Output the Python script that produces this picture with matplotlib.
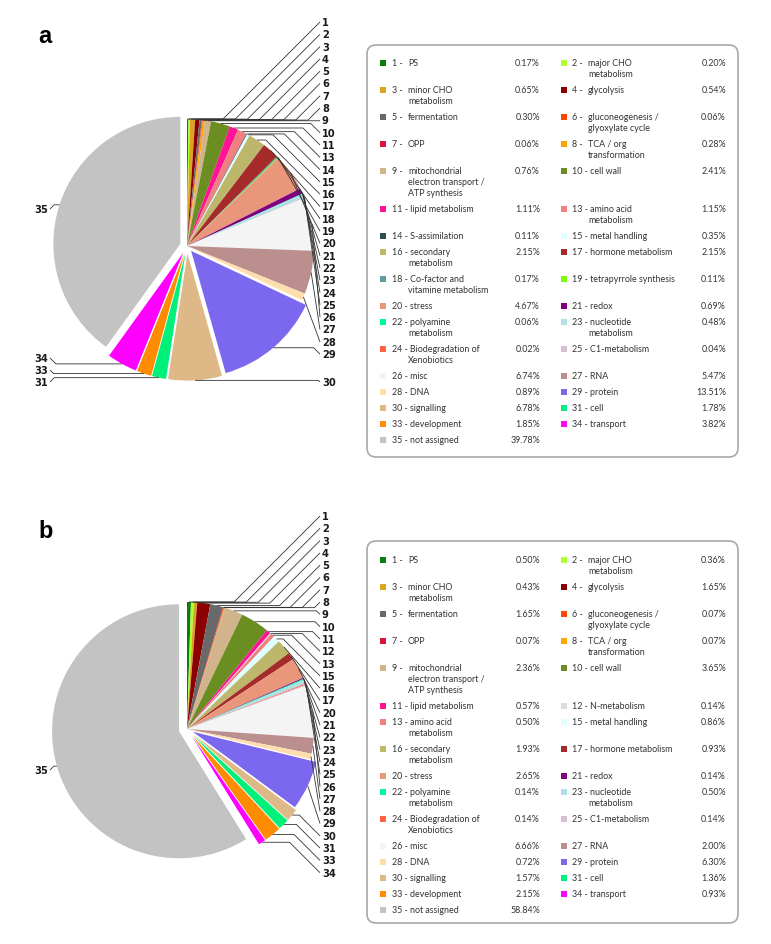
import math
import matplotlib
matplotlib.use('Agg')
import matplotlib.pyplot as plt
from matplotlib.patches import FancyBboxPatch, Rectangle

plt.rcParams['font.family'] = ['Liberation Sans', 'DejaVu Sans']

W, H = 771, 945
R = 127  # pie radius in pixels

# MapMan bins
bin_names = {
    1: 'PS', 2: 'major CHO\nmetabolism', 3: 'minor CHO\nmetabolism', 4: 'glycolysis',
    5: 'fermentation', 6: 'gluconeogenesis /\nglyoxylate cycle', 7: 'OPP',
    8: 'TCA / org\ntransformation', 9: 'mitochondrial\nelectron transport /\nATP synthesis',
    10: 'cell wall', 11: 'lipid metabolism', 12: 'N-metabolism', 13: 'amino acid\nmetabolism',
    14: 'S-assimilation', 15: 'metal handling', 16: 'secondary\nmetabolism',
    17: 'hormone metabolism', 18: 'Co-factor and\nvitamine metabolism',
    19: 'tetrapyrrole synthesis', 20: 'stress', 21: 'redox', 22: 'polyamine\nmetabolism',
    23: 'nucleotide\nmetabolism', 24: 'Biodegradation of\nXenobiotics', 25: 'C1-metabolism',
    26: 'misc', 27: 'RNA', 28: 'DNA', 29: 'protein', 30: 'signalling', 31: 'cell',
    33: 'development', 34: 'transport', 35: 'not assigned',
}
bin_colors = {
    1: '#0a7d0a', 2: '#adff2f', 3: '#daa520', 4: '#8b0000', 5: '#696969', 6: '#ff4500',
    7: '#dc143c', 8: '#ffa500', 9: '#d2b48c', 10: '#6b8e23', 11: '#ff1493', 12: '#dcdcdc',
    13: '#f08080', 14: '#2f4f4f', 15: '#e0ffff', 16: '#bdb76b', 17: '#a52a2a', 18: '#5f9ea0',
    19: '#7cfc00', 20: '#e9967a', 21: '#800080', 22: '#00fa9a', 23: '#b0e0e6', 24: '#ff6347',
    25: '#d8bfd8', 26: '#f4f4f4', 27: '#bc8f8f', 28: '#ffdead', 29: '#7b68ee', 30: '#deb887',
    31: '#00f07a', 33: '#ff8c00', 34: '#ff00ff', 35: '#c3c3c3',
}

a_bins = [1, 2, 3, 4, 5, 6, 7, 8, 9, 10, 11, 13, 14, 15, 16, 17, 18, 19, 20, 21,
          22, 23, 24, 25, 26, 27, 28, 29, 30, 31, 33, 34, 35]
a_pct = [0.17, 0.20, 0.65, 0.54, 0.30, 0.06, 0.06, 0.28, 0.76, 2.41, 1.11, 1.15, 0.11,
         0.35, 2.15, 2.15, 0.17, 0.11, 4.67, 0.69, 0.06, 0.48, 0.02, 0.04, 6.74, 5.47,
         0.89, 13.51, 6.78, 1.78, 1.85, 3.82, 39.78]

b_bins = [1, 2, 3, 4, 5, 6, 7, 8, 9, 10, 11, 12, 13, 15, 16, 17, 20, 21, 22, 23,
          24, 25, 26, 27, 28, 29, 30, 31, 33, 34, 35]
b_pct = [0.50, 0.36, 0.43, 1.65, 1.65, 0.07, 0.07, 0.07, 2.36, 3.65, 0.57, 0.14, 0.50,
         0.86, 1.93, 0.93, 2.65, 0.14, 0.14, 0.50, 0.14, 0.14, 6.66, 2.00, 0.72, 6.30,
         1.57, 1.36, 2.15, 0.93, 58.84]

fig = plt.figure(figsize=(W / 100, H / 100), dpi=100)
ax = fig.add_axes([0, 0, 1, 1])

LBL_FONT = dict(family='DejaVu Sans', fontstretch='condensed', fontweight='bold',
                fontsize=7.9, color='#1a1a1a')
LEG_FONT = dict(family=['Lato', 'DejaVu Sans'], fontsize=6.4, color='#333333')


def Y(py):
    return H - py


def leader(anchor, label, side):
    x0, y0 = anchor
    lx, ly = label
    dy = abs(y0 - ly)
    if side == 'right':
        ex = lx - dy
        pts = [(x0, y0), (ex, y0), (lx, ly)] if ex > x0 else [(x0, y0), (lx, ly)]
    else:
        ex = lx + dy
        pts = [(x0, y0), (ex, y0), (lx, ly)] if ex < x0 else [(x0, y0), (lx, ly)]
    ax.plot([p[0] for p in pts], [p[1] for p in pts], color='#333333', lw=0.6,
            solid_capstyle='butt', zorder=3)


def draw_panel(letter, bins, pct, cy, explode, right_top, fixed_right, left_pos,
               letter_y, box, row0):
    ax.text(38, Y(letter_y), letter, fontsize=17, fontweight='bold', ha='left',
            va='baseline', color='black')

    # explode in pie() is absolute, so scale by the radius
    wedges, _ = ax.pie(pct, colors=[bin_colors[b] for b in bins], startangle=90,
                       counterclock=False, center=(187, Y(cy)), radius=R,
                       explode=[explode.get(b, 0) * R for b in bins],
                       wedgeprops=dict(linewidth=0))

    # leader labels
    right_seq = [b for b in bins if b not in left_pos and b not in fixed_right]
    label_y = {b: right_top + i * 12.3 for i, b in enumerate(right_seq)}
    label_y.update(fixed_right)
    for b, w in zip(bins, wedges):
        mid = math.radians((w.theta1 + w.theta2) / 2)
        cx, cyy = w.center
        anchor = (cx + w.r * math.cos(mid), cyy + w.r * math.sin(mid))
        if b in left_pos:
            pos = (50, Y(left_pos[b]))
            leader(anchor, pos, 'left')
            ax.text(48, pos[1], str(b), ha='right', va='center', **LBL_FONT)
        else:
            pos = (320, Y(label_y[b]))
            leader(anchor, pos, 'right')
            ax.text(322, pos[1], str(b), ha='left', va='center', **LBL_FONT)

    # legend box
    x0, y0, x1, y1 = box
    ax.add_patch(FancyBboxPatch((x0, Y(y1)), x1 - x0, y1 - y0,
                                boxstyle='round,pad=0,rounding_size=9',
                                fc='white', ec='#a8a8a8', lw=1.2, zorder=1))
    cols = [(383, 392, 408, 540), (564, 572, 588, 726)]
    y = row0
    for r in range(0, len(bins), 2):
        row = list(zip(bins[r:r + 2], pct[r:r + 2]))
        nlines = 1
        for c, (b, v) in enumerate(row):
            sq, nx, tx, px = cols[c]
            lines = bin_names[b].split('\n')
            nlines = max(nlines, len(lines))
            ax.add_patch(Rectangle((sq - 3.3, Y(y) - 3.3), 6.6, 6.6,
                                   fc=bin_colors[b], ec='none', zorder=2))
            if b < 10:
                ax.text(nx, Y(y), f'{b} -', ha='left', va='center', **LEG_FONT)
                ax.text(tx, Y(y), lines[0], ha='left', va='center', **LEG_FONT)
            else:
                ax.text(nx, Y(y), f'{b} - {lines[0]}', ha='left', va='center', **LEG_FONT)
            for k, ln in enumerate(lines[1:], start=1):
                ax.text(tx, Y(y + 11 * k), ln, ha='left', va='center', **LEG_FONT)
            ax.text(px, Y(y), f'{v:.2f}%', ha='right', va='center', **LEG_FONT)
        y += 16 + 11 * (nlines - 1)


draw_panel('a', a_bins, a_pct, 247,
           {29: 0.05, 30: 0.06, 31: 0.06, 33: 0.06, 34: 0.06, 35: 0.055},
           23, {30: 383}, {35: 210, 34: 359, 33: 371, 31: 383},
           43, (367, 46, 738, 458), 64)

draw_panel('b', b_bins, b_pct, 730,
           {29: 0.05, 30: 0.07, 31: 0.07, 33: 0.07, 34: 0.07, 35: 0.065},
           517, {}, {35: 771},
           538, (367, 542, 738, 924), 561)

ax.set_xlim(0, W)
ax.set_ylim(0, H)
ax.set_aspect('equal')
ax.axis('off')

fig.savefig('out.png', dpi=100, facecolor='white')
